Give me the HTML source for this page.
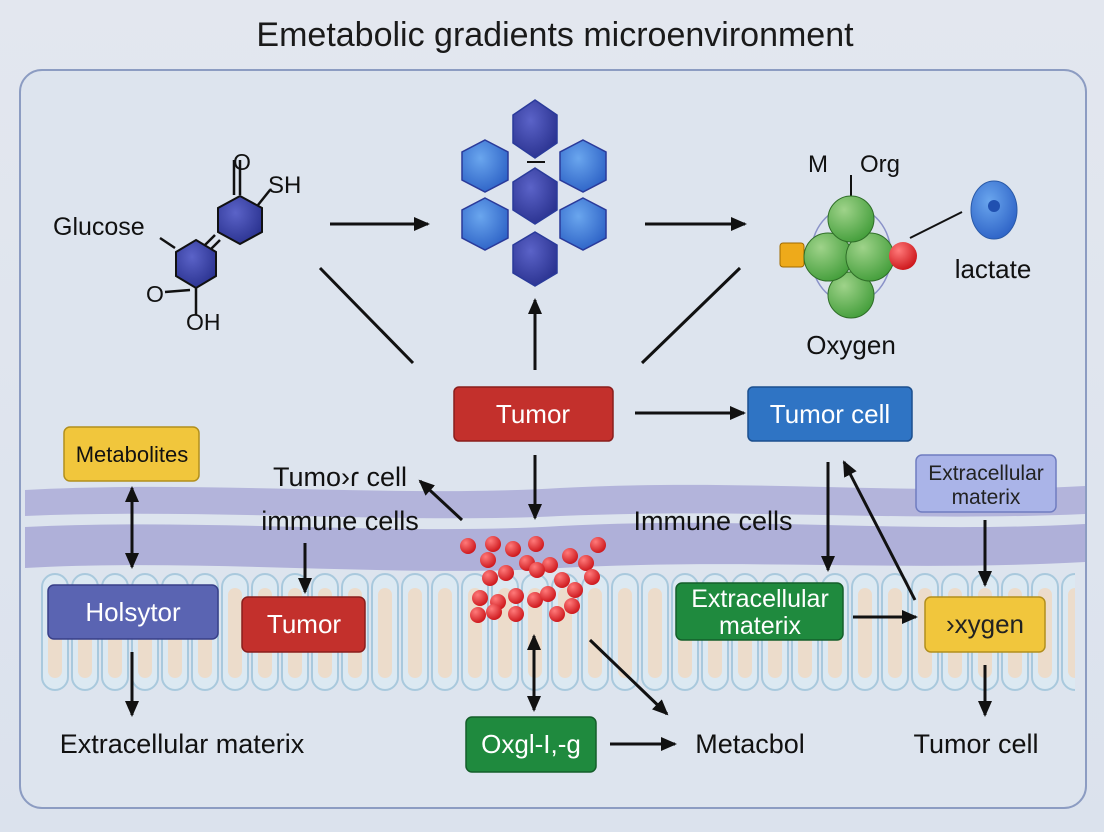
<!DOCTYPE html>
<html><head><meta charset="utf-8"><style>
html,body{margin:0;padding:0;background:#dfe5ee}
svg{display:block}
text{font-family:"Liberation Sans",sans-serif}
</style></head><body>
<svg width="1104" height="832" viewBox="0 0 1104 832" xmlns="http://www.w3.org/2000/svg">
<defs>
<marker id="a" markerWidth="16" markerHeight="14" refX="14" refY="7" orient="auto-start-reverse" markerUnits="userSpaceOnUse"><path d="M0,0 L16,7 L0,14 z" fill="#111"/></marker>
<radialGradient id="g" cx="0.35" cy="0.3" r="0.8"><stop offset="0" stop-color="#9fd38a"/><stop offset="1" stop-color="#3d9a35"/></radialGradient>
<radialGradient id="db" cx="0.4" cy="0.35" r="0.8"><stop offset="0" stop-color="#5b63c8"/><stop offset="1" stop-color="#222a86"/></radialGradient>
<radialGradient id="lb" cx="0.4" cy="0.35" r="0.8"><stop offset="0" stop-color="#6aa6ee"/><stop offset="1" stop-color="#2458c0"/></radialGradient>
<radialGradient id="rd" cx="0.35" cy="0.3" r="0.8"><stop offset="0" stop-color="#ff7a7a"/><stop offset="1" stop-color="#c80d12"/></radialGradient>
<linearGradient id="bg" x1="0" y1="0" x2="0" y2="1"><stop offset="0" stop-color="#e3e7ef"/><stop offset="1" stop-color="#dbe2ed"/></linearGradient>
<pattern id="cells" x="40" y="570" width="30" height="125" patternUnits="userSpaceOnUse">
<rect x="2" y="4" width="26" height="116" rx="13" fill="#dce9f2" stroke="#a9c9dd" stroke-width="2"/>
<rect x="8" y="18" width="14" height="90" rx="7" fill="#ecdccb"/>
</pattern>
</defs>
<rect width="1104" height="832" fill="url(#bg)"/>
<text x="555" y="46" font-size="34" text-anchor="middle" fill="#1a1a1a">Emetabolic gradients microenvironment</text>
<rect x="20" y="70" width="1066" height="738" rx="22" fill="#dde4ee" stroke="#8c9cc2" stroke-width="2"/>
<rect x="40" y="570" width="1035" height="125" fill="url(#cells)"/>
<path d="M25,490 C200,480 400,498 560,488 C750,478 900,496 1085,486 L1085,514 C900,522 750,508 560,516 C400,524 200,508 25,516 Z" fill="#aeaed8" opacity="0.9"/>
<path d="M25,527 C200,518 400,536 560,526 C750,516 900,534 1085,524 L1085,562 C900,572 750,558 560,568 C400,578 200,558 25,568 Z" fill="#aaaad6" opacity="0.9"/>
<!-- glucose molecule -->
<g stroke="#111" stroke-width="2.5" fill="none">
<line x1="240" y1="195" x2="240" y2="160"/><line x1="234" y1="195" x2="234" y2="160"/>
<line x1="258" y1="205" x2="270" y2="190"/>
<line x1="215" y1="235" x2="180" y2="270"/><line x1="220" y1="240" x2="185" y2="275"/>
<line x1="160" y1="238" x2="175" y2="248"/>
<line x1="190" y1="290" x2="165" y2="292"/>
<line x1="196" y1="285" x2="196" y2="315"/>
</g>
<polygon points="240,196 262,208 262,232 240,244 218,232 218,208" fill="url(#db)" stroke="#111" stroke-width="2"/>
<polygon points="196,240 216,252 216,276 196,288 176,276 176,252" fill="url(#db)" stroke="#111" stroke-width="2"/>
<text x="242" y="170" font-size="23" text-anchor="middle" fill="#111">O</text>
<text x="268" y="193" font-size="24" fill="#111">SH</text>
<text x="53" y="235" font-size="25" fill="#111">Glucose</text>
<text x="146" y="302" font-size="23" fill="#111">O</text>
<text x="186" y="330" font-size="23" fill="#111">OH</text>
<!-- hexagon cluster -->
<g stroke="#2a3a9a" stroke-width="1.5">
<polygon points="535,100 557,115 557,143 535,158 513,143 513,115" fill="url(#db)"/>
<polygon points="485,140 508,152 508,180 485,192 462,180 462,152" fill="url(#lb)"/>
<polygon points="583,140 606,152 606,180 583,192 560,180 560,152" fill="url(#lb)"/>
<polygon points="535,168 557,182 557,210 535,224 513,210 513,182" fill="url(#db)"/>
<polygon points="485,198 508,210 508,238 485,250 462,238 462,210" fill="url(#lb)"/>
<polygon points="583,198 606,210 606,238 583,250 560,238 560,210" fill="url(#lb)"/>
<polygon points="535,232 557,245 557,273 535,286 513,273 513,245" fill="url(#db)"/>
</g>
<line x1="527" y1="162" x2="545" y2="162" stroke="#111" stroke-width="2"/>
<!-- oxygen molecule -->
<ellipse cx="851" cy="255" rx="40" ry="48" fill="none" stroke="#8a92c8" stroke-width="1.5"/>
<line x1="851" y1="175" x2="851" y2="205" stroke="#111" stroke-width="2"/>
<rect x="780" y="243" width="24" height="24" rx="3" fill="#eeaa1a" stroke="#a06a00"/>
<circle cx="851" cy="295" r="23" fill="url(#g)" stroke="#2f6e28"/>
<circle cx="828" cy="257" r="24" fill="url(#g)" stroke="#2f6e28"/>
<circle cx="870" cy="257" r="24" fill="url(#g)" stroke="#2f6e28"/>
<circle cx="851" cy="219" r="23" fill="url(#g)" stroke="#2f6e28"/>
<line x1="910" y1="238" x2="962" y2="212" stroke="#111" stroke-width="2"/>
<circle cx="903" cy="256" r="14" fill="url(#rd)"/>
<ellipse cx="994" cy="210" rx="23" ry="29" fill="url(#lb)" stroke="#2a5aa8"/>
<circle cx="994" cy="206" r="6" fill="#2050b0"/>
<text x="818" y="172" font-size="24" text-anchor="middle" fill="#111">M</text>
<text x="880" y="172" font-size="24" text-anchor="middle" fill="#111">Org</text>
<text x="993" y="278" font-size="26" text-anchor="middle" fill="#111">lactate</text>
<text x="851" y="354" font-size="26" text-anchor="middle" fill="#111">Oxygen</text>
<!-- connectors -->
<g stroke="#111" stroke-width="3" fill="none">
<line x1="330" y1="224" x2="428" y2="224" marker-end="url(#a)"/>
<line x1="645" y1="224" x2="745" y2="224" marker-end="url(#a)"/>
<line x1="320" y1="268" x2="413" y2="363"/>
<line x1="740" y1="268" x2="642" y2="363"/>
<line x1="535" y1="370" x2="535" y2="300" marker-end="url(#a)"/>
<line x1="635" y1="413" x2="744" y2="413" marker-end="url(#a)"/>
<line x1="535" y1="455" x2="535" y2="518" marker-end="url(#a)"/>
<line x1="462" y1="520" x2="420" y2="481" marker-end="url(#a)"/>
<line x1="132" y1="488" x2="132" y2="567" marker-start="url(#a)" marker-end="url(#a)"/>
<line x1="305" y1="543" x2="305" y2="592" marker-end="url(#a)"/>
<line x1="828" y1="462" x2="828" y2="570" marker-end="url(#a)"/>
<line x1="915" y1="600" x2="844" y2="462" marker-end="url(#a)"/>
<line x1="985" y1="520" x2="985" y2="585" marker-end="url(#a)"/>
<line x1="853" y1="617" x2="916" y2="617" marker-end="url(#a)"/>
<line x1="132" y1="652" x2="132" y2="715" marker-end="url(#a)"/>
<line x1="534" y1="636" x2="534" y2="710" marker-start="url(#a)" marker-end="url(#a)"/>
<line x1="590" y1="640" x2="667" y2="714" marker-end="url(#a)"/>
<line x1="610" y1="744" x2="675" y2="744" marker-end="url(#a)"/>
<line x1="985" y1="665" x2="985" y2="715" marker-end="url(#a)"/>
</g>
<g fill="url(#rd)">
<circle cx="468" cy="546" r="8"/><circle cx="493" cy="544" r="8"/><circle cx="513" cy="549" r="8"/><circle cx="536" cy="544" r="8"/><circle cx="598" cy="545" r="8"/>
<circle cx="488" cy="560" r="8"/><circle cx="527" cy="563" r="8"/><circle cx="550" cy="565" r="8"/><circle cx="570" cy="556" r="8"/><circle cx="586" cy="563" r="8"/>
<circle cx="490" cy="578" r="8"/><circle cx="506" cy="573" r="8"/><circle cx="537" cy="570" r="8"/><circle cx="562" cy="580" r="8"/><circle cx="592" cy="577" r="8"/>
<circle cx="480" cy="598" r="8"/><circle cx="498" cy="602" r="8"/><circle cx="516" cy="596" r="8"/><circle cx="535" cy="600" r="8"/><circle cx="548" cy="594" r="8"/><circle cx="575" cy="590" r="8"/>
<circle cx="478" cy="615" r="8"/><circle cx="494" cy="612" r="8"/><circle cx="516" cy="614" r="8"/><circle cx="557" cy="614" r="8"/><circle cx="572" cy="606" r="8"/>
</g>
<g stroke-width="1.5">
<rect x="454" y="387" width="159" height="54" rx="5" fill="#c3302c" stroke="#8a1e1c"/>
<rect x="748" y="387" width="164" height="54" rx="5" fill="#2f74c4" stroke="#1c4f8e"/>
<rect x="64" y="427" width="135" height="54" rx="6" fill="#f1c63c" stroke="#b28f1c"/>
<rect x="916" y="455" width="140" height="57" rx="6" fill="#aab4e8" stroke="#6f7cc0"/>
<rect x="48" y="585" width="170" height="54" rx="6" fill="#5a64b2" stroke="#383f88"/>
<rect x="242" y="597" width="123" height="55" rx="6" fill="#c3302c" stroke="#8a1e1c"/>
<rect x="676" y="583" width="167" height="57" rx="6" fill="#1f8a3e" stroke="#145e2a"/>
<rect x="925" y="597" width="120" height="55" rx="6" fill="#f1c63c" stroke="#b28f1c"/>
<rect x="466" y="717" width="130" height="55" rx="6" fill="#1f8a3e" stroke="#145e2a"/>
</g>
<g font-size="26" text-anchor="middle">
<text x="533" y="423" fill="#fff">Tumor</text>
<text x="830" y="423" fill="#fff">Tumor cell</text>
<text x="132" y="462" fill="#111" font-size="22">Metabolites</text>
<text x="986" y="480" fill="#222" font-size="21">Extracellular</text>
<text x="986" y="504" fill="#222" font-size="21">materix</text>
<text x="133" y="621" fill="#fff">Holsytor</text>
<text x="304" y="633" fill="#fff">Tumor</text>
<text x="760" y="607" fill="#fff" font-size="25">Extracellular</text>
<text x="760" y="634" fill="#fff" font-size="25">materix</text>
<text x="985" y="633" fill="#222">›xygen</text>
<text x="531" y="753" fill="#fff">Oxgl-I,-g</text>
<text x="340" y="486" fill="#111" font-size="27">Tumo›ɾ cell</text>
<text x="340" y="530" fill="#111" font-size="27">immune cells</text>
<text x="713" y="530" fill="#111" font-size="27">Immune cells</text>
<text x="182" y="753" fill="#111" font-size="27">Extracellular materix</text>
<text x="750" y="753" fill="#111" font-size="27">Metacbol</text>
<text x="976" y="753" fill="#111" font-size="27">Tumor cell</text>
</g>
</svg>
</body></html>
